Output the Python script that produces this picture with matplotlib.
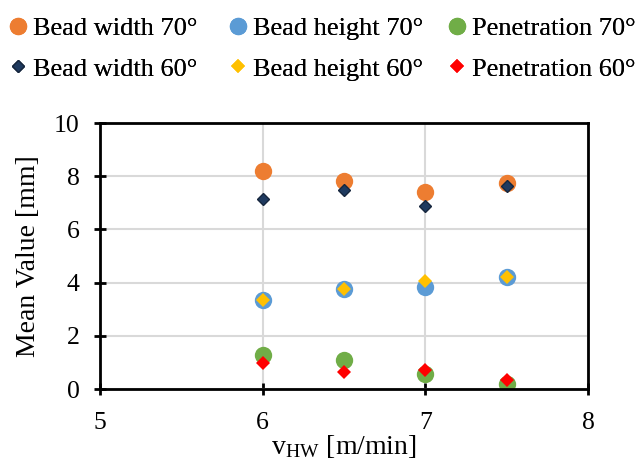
import matplotlib
matplotlib.use('agg')
import matplotlib.pyplot as plt

plt.rcParams['font.family'] = ['Liberation Serif', 'DejaVu Serif']
plt.rcParams['mathtext.fontset'] = 'stix'

speed = [6, 6.5, 7, 7.5]
width_70 = [8.2, 7.82, 7.4, 7.74]
height_70 = [3.35, 3.76, 3.82, 4.21]
pen_70 = [1.28, 1.09, 0.55, 0.18]
width_60 = [7.14, 7.48, 6.88, 7.63]
height_60 = [3.35, 3.76, 4.06, 4.2]
pen_60 = [0.97, 0.65, 0.71, 0.36]

fig = plt.figure(figsize=(6.44, 4.61), dpi=100)
ax = fig.add_axes([0.155, 0.156, 0.758, 0.577])

h = {}
h['bw70'], = ax.plot(speed, width_70, 'o', color='#ED7D31', ms=12.5, mew=0, label='Bead width 70°')
h['bh70'], = ax.plot(speed, height_70, 'o', color='#5B9BD5', ms=12.5, mew=0, label='Bead height 70°')
h['p70'], = ax.plot(speed, pen_70, 'o', color='#70AD47', ms=12.5, mew=0, label='Penetration 70°')
h['bw60'], = ax.plot(speed, width_60, 'D', color='#1F3A5F', mec='#16263d', ms=6.5, label='Bead width 60°')
h['bh60'], = ax.plot(speed, height_60, 'D', color='#FFC000', mew=0, ms=7, label='Bead height 60°')
h['p60'], = ax.plot(speed, pen_60, 'D', color='#FF0000', mew=0, ms=7, label='Penetration 60°')

ax.set_xlim(5, 8)
ax.set_ylim(0, 10)
ax.set_xticks([5, 6, 7, 8])
ax.set_yticks([0, 2, 4, 6, 8, 10])
ax.grid(True, color='#d9d9d9', lw=1.5)
ax.set_axisbelow(True)
for s in ax.spines.values():
    s.set_linewidth(2)
ax.tick_params(labelsize=18.5, width=2, length=9, direction='inout')
ax.tick_params(axis='x', pad=12)
ax.tick_params(axis='y', pad=10)
ax.set_xlabel(r'v$_{\mathregular{HW}}$ [m/min]', fontsize=20, labelpad=-1)
ax.set_ylabel('Mean Value [mm]', fontsize=20, labelpad=9)

cols = [('bw70', 'bw60', 10), ('bh70', 'bh60', 230), ('p70', 'p60', 449)]
for top, bot, x in cols:
    lg = fig.legend([h[top], h[bot]], [h[top].get_label(), h[bot].get_label()],
                    loc='center left', bbox_to_anchor=(x / 644, 1 - 48.5 / 461),
                    frameon=False, fontsize=19, handletextpad=0.27,
                    handlelength=0.6, labelspacing=0.65, borderpad=0, borderaxespad=0)
    fig.add_artist(lg)

fig.savefig('out.png', dpi=100)
